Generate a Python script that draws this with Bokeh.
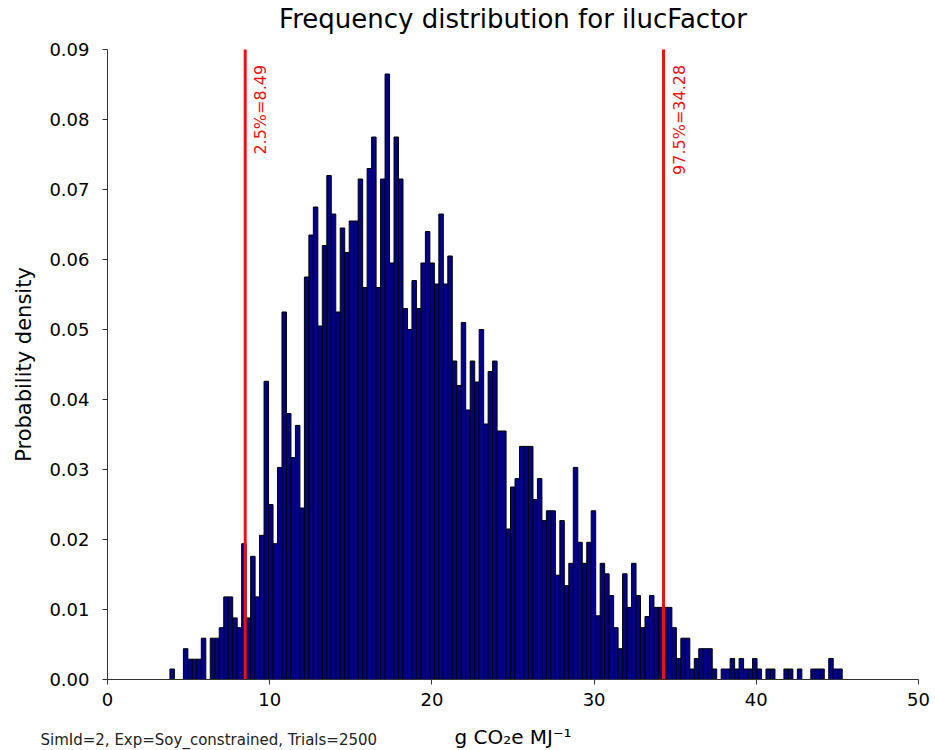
from bokeh.plotting import figure
from bokeh.models import Range1d, FixedTicker, NumeralTickFormatter, Label, LinearAxis
from bokeh.embed import file_html
from bokeh.resources import INLINE
import numpy as np

title_text = "Frequency distribution for ilucFactor"
x_label = "g CO\u2082e MJ\u207b\u00b9"
y_label = "Probability density"
footer_text = "SimId=2, Exp=Soy_constrained, Trials=2500"

# histogram bins (150 bins)
bin_start = 3.85
bin_width = 0.2763
density = [
    0.0015, 0.0, 0.0, 0.0044, 0.0029, 0.0029, 0.0029, 0.0059, 0.0, 0.0059,
    0.0059, 0.0074, 0.0118, 0.0118, 0.0088, 0.0074, 0.0194, 0.0088, 0.0176, 0.0118,
    0.0206, 0.0426, 0.0250, 0.0194, 0.0303, 0.0525, 0.0380, 0.0317, 0.0363, 0.0245,
    0.0575, 0.0635, 0.0675, 0.0505, 0.0620, 0.0720, 0.0665, 0.0525, 0.0645, 0.0610,
    0.0655, 0.0655, 0.0715, 0.0560, 0.0730, 0.0775, 0.0560, 0.0715, 0.0865, 0.0595,
    0.0775, 0.0715, 0.0530, 0.0500, 0.0570, 0.0530, 0.0595, 0.0640, 0.0595, 0.0565,
    0.0665, 0.0565, 0.0605, 0.0455, 0.0420, 0.0510, 0.0385, 0.0455, 0.0425, 0.0500,
    0.0365, 0.0440, 0.0455, 0.0355, 0.0355, 0.0215, 0.0275, 0.0287, 0.0333, 0.0333,
    0.0333, 0.0257, 0.0287, 0.0227, 0.0241, 0.0241, 0.0149, 0.0227, 0.0134, 0.0166,
    0.0303, 0.0196, 0.0166, 0.0196, 0.0241, 0.0091, 0.0166, 0.0151, 0.0120, 0.0074,
    0.0044, 0.0151, 0.0103, 0.0166, 0.0120, 0.0074, 0.0090, 0.0120, 0.0103, 0.0103,
    0.0103, 0.0103, 0.0074, 0.0030, 0.0059, 0.0059, 0.0015, 0.0030, 0.0044, 0.0044,
    0.0044, 0.0015, 0.0, 0.0015, 0.0015, 0.0030, 0.0015, 0.0030, 0.0015, 0.0015,
    0.0030, 0.0015, 0.0, 0.0015, 0.0015, 0.0, 0.0, 0.0015, 0.0015, 0.0,
    0.0015, 0.0, 0.0, 0.0015, 0.0015, 0.0015, 0.0, 0.0030, 0.0015, 0.0015,
]

ci_values = [8.49, 34.28]
ci_labels = ["2.5%=8.49", "97.5%=34.28"]

x_ticks = [0, 10, 20, 30, 40, 50]
y_ticks = [0.00, 0.01, 0.02, 0.03, 0.04, 0.05, 0.06, 0.07, 0.08, 0.09]
x_axis_span = (0, 50)
y_axis_span = (0.0, 0.09)

FONT = "DejaVu Sans"

# The frame fills the whole canvas; axes are drawn at fixed positions inside it,
# so that the title and footer can be placed as labels.
W, H = 930, 750
left_px, right_px, top_px, bottom_px = 107, 918, 49, 679
sx = (right_px - left_px) / (x_axis_span[1] - x_axis_span[0])
sy = (bottom_px - top_px) / (y_axis_span[1] - y_axis_span[0])
x_rng = Range1d(x_axis_span[0] - left_px / sx, x_axis_span[1] + (W - right_px) / sx)
y_rng = Range1d(y_axis_span[0] - (H - bottom_px) / sy, y_axis_span[1] + top_px / sy)

p = figure(width=W, height=H, output_backend="svg", toolbar_location=None,
           title=None, x_range=x_rng, y_range=y_rng,
           x_axis_location=None, y_axis_location=None,
           min_border=0, min_border_left=0, min_border_right=0,
           min_border_top=0, min_border_bottom=0)
p.outline_line_color = None
p.xgrid.visible = False
p.ygrid.visible = False
p.background_fill_color = "white"

n = len(density)
edges = bin_start + bin_width * np.arange(n + 1)
p.quad(left=edges[:-1], right=edges[1:], bottom=0, top=density,
       fill_color="#00008B", line_color="black", line_width=1)

p.segment(x0=ci_values, y0=[y_axis_span[0]] * 2, x1=ci_values, y1=[y_axis_span[1]] * 2,
          line_color="#ee1111", line_width=3)
for v, lab in zip(ci_values, ci_labels):
    p.add_layout(Label(x=v, y=0.0878, text=lab, angle=90, angle_units="deg",
                       x_offset=6, text_align="right", text_baseline="top",
                       text_color="#ee1111", text_font=FONT, text_font_size="16px"))

xaxis = LinearAxis(fixed_location=0, bounds=x_axis_span, axis_label=x_label)
yaxis = LinearAxis(fixed_location=0, bounds=y_axis_span, axis_label=y_label)
p.add_layout(xaxis, "below")
p.add_layout(yaxis, "left")

for ax in (xaxis, yaxis):
    ax.axis_line_color = "#333333"
    ax.major_tick_line_color = "#333333"
    ax.minor_tick_line_color = None
    ax.major_tick_out = 5
    ax.major_tick_in = 0
    ax.major_label_text_font = FONT
    ax.major_label_text_font_size = "18px"
    ax.major_label_text_color = "black"
    ax.axis_label_text_font = FONT
    ax.axis_label_text_font_style = "normal"
    ax.axis_label_text_color = "black"

xaxis.ticker = FixedTicker(ticks=x_ticks)
yaxis.ticker = FixedTicker(ticks=y_ticks)
yaxis.formatter = NumeralTickFormatter(format="0.00")
xaxis.axis_label_text_font_size = "20px"
yaxis.axis_label_text_font_size = "21px"
xaxis.major_label_standoff = 8
xaxis.axis_label_standoff = 16
yaxis.major_label_standoff = 13
yaxis.axis_label_standoff = 10

p.add_layout(Label(x=(x_axis_span[0] + x_axis_span[1]) / 2, y=y_axis_span[1] + 31 / sy,
                   text=title_text, text_align="center", text_baseline="middle",
                   text_font=FONT, text_font_size="26px", text_color="black"))

p.add_layout(Label(x=x_axis_span[0] - 67 / sx, y=y_axis_span[0] - 60 / sy, text=footer_text,
                   text_baseline="middle", text_align="left", text_font=FONT,
                   text_font_size="15px", text_color="#222222"))

open("out.html", "w").write(file_html(p, INLINE))
